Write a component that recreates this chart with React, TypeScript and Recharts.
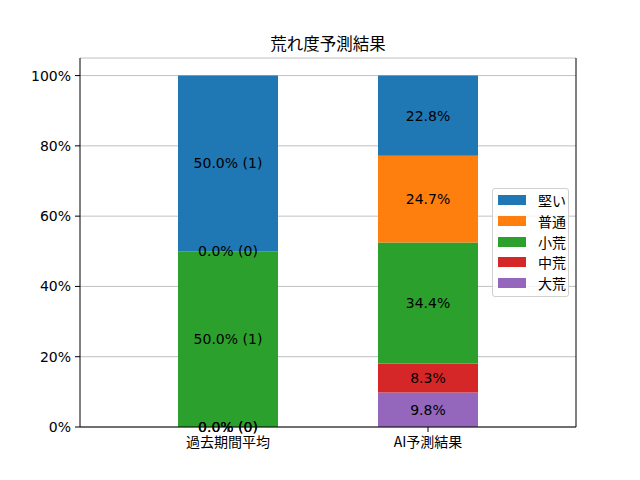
import React from "react";
import { ComposedChart, Bar, Line, XAxis, YAxis, CartesianGrid, LabelList } from "recharts";

const categories = ["過去期間平均", "AI予測結果"];
const seriesNames = ["大荒", "中荒", "小荒", "普通", "堅い"];
const seriesColors = ["#9467bd", "#d62728", "#2ca02c", "#ff7f0e", "#1f77b4"];
// percentages per series, per category
const daiare = [0, 9.8];
const chuare = [0, 8.3];
const shoare = [50, 34.4];
const futsu = [0, 24.7];
const katai = [50, 22.8];
// counts (only shown for the past-average category)
const countsDaiare = [0, null];
const countsChuare = [0, null];
const countsShoare = [1, null];
const countsFutsu = [0, null];
const countsKatai = [1, null];
const yTicks = [0, 20, 40, 60, 80, 100];
const legendOrder = ["堅い", "普通", "小荒", "中荒", "大荒"];

const seriesValues = [daiare, chuare, shoare, futsu, katai];
const seriesCounts = [countsDaiare, countsChuare, countsShoare, countsFutsu, countsKatai];

const data = categories.map((c, i) => {
  const row: any = { name: c };
  let base = 0;
  seriesNames.forEach((s, k) => {
    const v = seriesValues[k][i];
    row[s] = v;
    row[s + "_mid"] = base + v / 2;
    base += v;
    const cnt = seriesCounts[k][i];
    row[s + "_label"] = v.toFixed(1) + "%" + (cnt !== null ? ` (${cnt})` : "");
  });
  return row;
});

const FONT = "'DejaVu Sans', 'Noto Sans CJK JP', sans-serif";
const JFONT = "'Noto Sans CJK JP', 'DejaVu Sans', sans-serif";

const renderLabel = (props: any) => {
  const { x, y, value } = props;
  return (
    <text
      x={Number(x)}
      y={Number(y)}
      textAnchor="middle"
      dominantBaseline="central"
      fontSize={14}
      fontFamily={FONT}
      fill="#000"
    >
      {value}
    </text>
  );
};

const LegendBox = () => (
  <div
    style={{
      position: "absolute",
      left: 492,
      top: 188,
      width: 77,
      height: 109,
      boxSizing: "border-box",
      border: "1px solid #d0d0d0",
      borderRadius: 3,
      background: "rgba(255,255,255,0.8)",
      paddingTop: 1,
    }}
  >
    {legendOrder.map((n) => {
      const color = seriesColors[seriesNames.indexOf(n)];
      return (
        <div key={n} style={{ display: "flex", alignItems: "center", height: 20.7 }}>
          <div
            style={{
              width: 28,
              height: 10,
              background: color,
              marginLeft: 5,
              marginRight: 12,
            }}
          />
          <span style={{ fontFamily: JFONT, fontSize: 14, color: "#000", lineHeight: "16px" }}>{n}</span>
        </div>
      );
    })}
  </div>
);

export default function App() {
  return (
    <div
      style={{
        position: "absolute",
        left: 0,
        top: 0,
        width: 640,
        height: 480,
        background: "#fff",
      }}
    >
      <div
        style={{
          position: "absolute",
          left: 80,
          width: 496,
          top: 32,
          textAlign: "center",
          fontFamily: JFONT,
          fontSize: 16.5,
          lineHeight: "22px",
          color: "#000",
        }}
      >
        荒れ度予測結果
      </div>
      <ComposedChart
        width={640}
        height={480}
        data={data}
        margin={{ top: 58, right: 0, bottom: 0, left: 0 }}
      >
        <CartesianGrid vertical={false} stroke="#b0b0b0" strokeWidth={0.8} yAxisId="left" xAxisId="bottom" />
        <XAxis
          dataKey="name"
          xAxisId="bottom"
          height={53}
          padding={{ left: 48, right: 48 }}
          axisLine={{ stroke: "#000", strokeWidth: 1 }}
          tickLine={{ stroke: "#000" }}
          tickSize={5}
          tick={{ fill: "#000", fontSize: 14, fontFamily: JFONT, dy: 3 }}
          interval={0}
        />
        <XAxis
          dataKey="name"
          xAxisId="top"
          orientation="top"
          height={0}
          tick={false}
          tickLine={false}
          axisLine={{ stroke: "#000", strokeWidth: 1 }}
          padding={{ left: 48, right: 48 }}
        />
        <YAxis
          yAxisId="left"
          width={80}
          domain={[0, 105]}
          ticks={yTicks}
          allowDataOverflow
          tickFormatter={(v: number) => `${v}%`}
          axisLine={{ stroke: "#000", strokeWidth: 1 }}
          tickLine={{ stroke: "#000" }}
          tickSize={5}
          tick={{ fill: "#000", fontSize: 14, fontFamily: FONT, dx: -2 }}
        />
        <YAxis
          yAxisId="right"
          orientation="right"
          width={64}
          domain={[0, 105]}
          tick={false}
          tickLine={false}
          axisLine={{ stroke: "#000", strokeWidth: 1 }}
        />
        {seriesNames.map((s, k) => (
          <Bar
            key={s}
            dataKey={s}
            name={s}
            stackId="a"
            xAxisId="bottom"
            yAxisId="left"
            fill={seriesColors[k]}
            barSize={100}
            isAnimationActive={false}
          />
        ))}
        {seriesNames.map((s) => (
          <Line
            key={s + "_lbl"}
            dataKey={s + "_mid"}
            xAxisId="bottom"
            yAxisId="left"
            stroke="none"
            dot={false}
            activeDot={false}
            legendType="none"
            isAnimationActive={false}
          >
            <LabelList dataKey={s + "_label"} content={renderLabel} />
          </Line>
        ))}
      </ComposedChart>
      <LegendBox />
    </div>
  );
}
